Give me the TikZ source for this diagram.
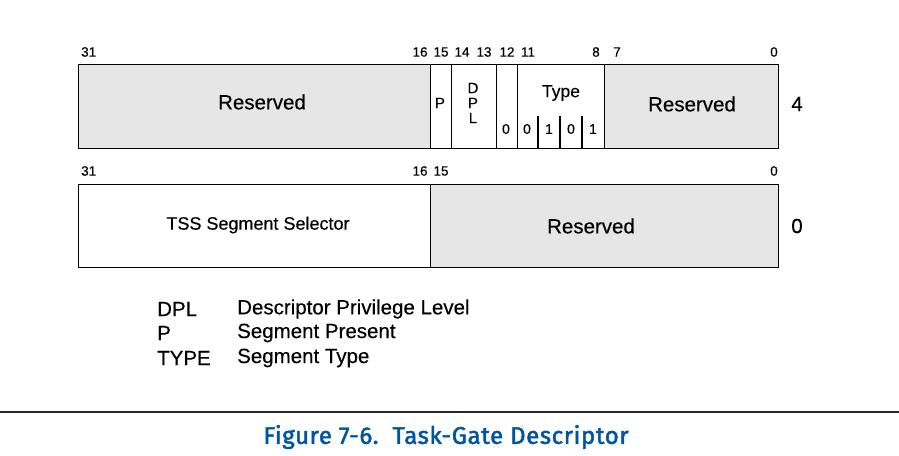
\documentclass[tikz,border=0pt]{standalone}
\usepackage{fontspec}
\setmainfont{Liberation Sans}[FakeBold=0.3]
\newfontfamily\capfont{Fira Sans}[FakeBold=2, LetterSpace=2.5]
\definecolor{resgray}{RGB}{230,230,230}
\definecolor{capblue}{RGB}{0,84,164}
\begin{document}
\begin{tikzpicture}[x=1pt,y=-1pt,
  cell/.style={draw, line width=1.2pt, inner sep=0pt, anchor=north west, minimum height=84pt},
  shaded/.style={fill=resgray},
  bitnum/.style={font=\fontsize{13.5}{14}\selectfont, inner sep=0pt},
  big/.style={font=\fontsize{20.5}{21}\selectfont, inner sep=0pt},
  mid/.style={font=\fontsize{15}{15}\selectfont, inner sep=0pt},
  small/.style={font=\fontsize{14}{14}\selectfont, inner sep=0pt},
  legend/.style={font=\fontsize{20.5}{21}\selectfont, inner sep=0pt, anchor=west}]
\useasboundingbox (0,0) rectangle (899,455);
% ---------- top doubleword (offset 4) ----------
\node[cell,shaded,minimum width=352pt] (resA) at (78,64) {};
\node[cell,minimum width=21pt] (pcell) at (430,64) {};
\node[cell,minimum width=45pt] (dplcell) at (451,64) {};
\node[cell,minimum width=21pt] (zcell) at (496,64) {};
\node[cell,minimum width=87pt] (typecell) at (517,64) {};
\node[cell,shaded,minimum width=174pt] (resB) at (604,64) {};
\coordinate (t1) at (538,116); \coordinate (t1b) at (538,148);
\coordinate (t2) at (560,116); \coordinate (t2b) at (560,148);
\coordinate (t3) at (582,116); \coordinate (t3b) at (582,148);
\draw[line width=1.2pt] (t1) -- (t1b) (t2) -- (t2b) (t3) -- (t3b);
\node[big] (resAtxt) at (262,102) {Reserved};
\node[mid] (ptxt) at (440,103) {P};
\node[mid] (dD) at (473,88) {D};
\node[mid] (dP) at (473,103) {P};
\node[mid] (dL) at (473,118) {L};
\node[small] (z0) at (506,129) {0};
\node[font=\fontsize{17.5}{18}\selectfont, inner sep=0pt] (typetxt) at (561,93) {Type};
\node[small] (b11) at (527,129) {0};
\node[small] (b10) at (549,129) {1};
\node[small] (b9) at (571,129) {0};
\node[small] (b8) at (593,129) {1};
\node[big] (resBtxt) at (692,104) {Reserved};
\node[big] (off4) at (797,104) {4};
% bit numbers top
\node[bitnum,anchor=west] (n31a) at (81,52) {31};
\node[bitnum] (n16a) at (420,52) {16};
\node[bitnum] (n15a) at (441,52) {15};
\node[bitnum] (n14a) at (462,52) {14};
\node[bitnum] (n13a) at (484,52) {13};
\node[bitnum] (n12a) at (507,52) {12};
\node[bitnum] (n11a) at (528,52) {11};
\node[bitnum] (n8a) at (596,52) {8};
\node[bitnum] (n7a) at (617,52) {7};
\node[bitnum] (n0a) at (774,52) {0};
% ---------- bottom doubleword (offset 0) ----------
\node[cell,minimum width=352pt,minimum height=83pt] (tss) at (78,184) {};
\node[cell,shaded,minimum width=348pt,minimum height=83pt] (resC) at (430,184) {};
\node[font=\fontsize{18}{18}\selectfont, inner sep=0pt] (tsstxt) at (258,225) {TSS Segment Selector};
\node[big] (resCtxt) at (591,226) {Reserved};
\node[big] (off0) at (797,226) {0};
\node[bitnum,anchor=west] (n31b) at (81,171) {31};
\node[bitnum] (n16b) at (420,171) {16};
\node[bitnum] (n15b) at (441,171) {15};
\node[bitnum] (n0b) at (774,171) {0};
% ---------- legend ----------
\node[legend] (k1) at (157,309) {DPL};
\node[legend] (v1) at (237,309) {Descriptor Privilege Level};
\node[legend] (k2) at (157,333) {P};
\node[legend] (v2) at (237,333) {Segment Present};
\node[legend] (k3) at (157,358) {TYPE};
\node[legend] (v3) at (237,358) {Segment Type};
% ---------- rule and caption ----------
\coordinate (ruleL) at (0,412);
\coordinate (ruleR) at (899,412);
\draw[line width=2pt, black!85] (ruleL) -- (ruleR);
\node[font=\capfont\fontsize{24}{24}\selectfont, text=capblue, inner sep=0pt] (caption) at (446,437) {Figure 7-6.\ \ Task-Gate Descriptor};
\end{tikzpicture}
\end{document}
